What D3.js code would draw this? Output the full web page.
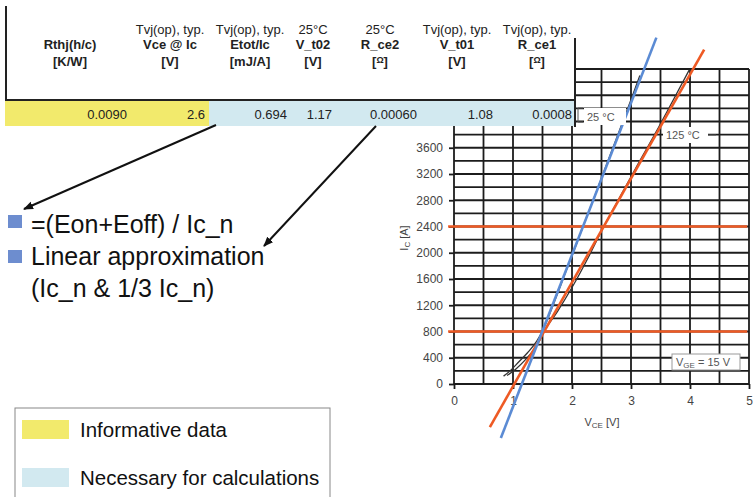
<!DOCTYPE html>
<html>
<head>
<meta charset="utf-8">
<script src="https://cdn.jsdelivr.net/npm/d3@7"></script>
<style>
  body { margin: 0; background: #fff; }
  text { font-family: "Liberation Sans", Arial, sans-serif; }
</style>
</head>
<body>
<script>
// table content
var headTop = ["", "Tvj(op), typ.", "Tvj(op), typ.", "25°C", "25°C", "Tvj(op), typ.", "Tvj(op), typ."];
var headName = ["Rthj(h/c)", "Vce @ Ic", "Etot/Ic", "V_t02", "R_ce2", "V_t01", "R_ce1"];
var headUnit = ["[K/W]", "[V]", "[mJ/A]", "[V]", "[Ω]", "[V]", "[Ω]"];
var rowValues = ["0.0090", "2.6", "0.694", "1.17", "0.00060", "1.08", "0.0008"];

var bulletLines = ["=(Eon+Eoff) / Ic_n", "Linear approximation", "(Ic_n & 1/3 Ic_n)"];
var legendItems = ["Informative data", "Necessary for calculations"];

// chart data  [V_CE, I_C]
var xTicks = [0, 1, 2, 3, 4, 5];
var yTicks = [0, 400, 800, 1200, 1600, 2000, 2400, 2800, 3200, 3600];
var curve25 = [[0.84,120],[0.95,200],[1.1,340],[1.25,480],[1.4,650],[1.495,800],[1.7,1250],[1.9,1720],[2.05,2070],[2.187,2400],[2.4,2900],[2.6,3380],[2.8,3850],[3.0,4330],[3.15,4700]];
var curve125 = [[0.9,130],[1.05,230],[1.2,360],[1.35,520],[1.45,660],[1.528,800],[1.75,1100],[2.0,1470],[2.3,1970],[2.539,2400],[2.8,2830],[3.1,3320],[3.4,3800],[3.7,4300],[3.99,4790]];
var approx25 = [[0.794,-824],[3.43,5278]];
var approx125 = [[0.608,-656],[4.24,5095]];
var refCurrents = [800, 2400];

var svg = d3.select("body").append("svg").attr("width", 753).attr("height", 497);

var x = d3.scaleLinear().domain([0, 5]).range([454, 749]);
var y = d3.scaleLinear().domain([0, 4800]).range([384, 69]);

// grid
var g = svg.append("g");
g.selectAll("line.v")
  .data(d3.range(0, 5.01, 0.5))
  .enter().append("line")
          .attr("class","v")
          .attr("x1", function(d){ return x(d); })
          .attr("x2", function(d){ return x(d); })
          .attr("y1", y(0))
          .attr("y2", y(4800))
          .attr("stroke","#1c1c1c")
          .attr("stroke-width",1.8);
g.selectAll("line.h")
  .data(d3.range(0, 4801, 200))
  .enter().append("line")
          .attr("class","h")
          .attr("x1", x(0))
          .attr("x2", x(5))
          .attr("y1", function(d){ return y(d); })
          .attr("y2", function(d){ return y(d); })
          .attr("stroke","#1c1c1c")
          .attr("stroke-width",1.8);

// axes
var xAxis = svg.append("g").attr("transform","translate(0," + y(0) + ")")
  .call(d3.axisBottom(x).tickValues(xTicks).tickSize(5).tickPadding(7).tickFormat(d3.format("d")));
var yAxis = svg.append("g").attr("transform","translate(" + x(0) + ",0)")
  .call(d3.axisLeft(y).tickValues(yTicks).tickSize(5).tickPadding(6).tickFormat(d3.format("d")));
[xAxis, yAxis].forEach(function(a){
  a.select(".domain").remove();
  a.selectAll("line").attr("stroke","#1c1c1c").attr("stroke-width",1.8);
  a.selectAll("text").attr("fill","#444").attr("font-size",12).attr("font-family","Liberation Sans, Arial, sans-serif");
});

var xl = svg.append("text").attr("x", 602).attr("y", 426).attr("text-anchor","middle")
  .attr("font-size",11).attr("fill","#444");
xl.append("tspan").text("V");
xl.append("tspan").text("CE").attr("font-size",8).attr("dy",2);
xl.append("tspan").text(" [V]").attr("dy",-2);

var yl = svg.append("text").attr("transform","translate(408,238) rotate(-90)").attr("text-anchor","middle")
  .attr("font-size",11).attr("fill","#444");
yl.append("tspan").text("I");
yl.append("tspan").text("C").attr("font-size",8).attr("dy",2);
yl.append("tspan").text(" [A]").attr("dy",-2);

// reference currents
svg.selectAll("line.ref")
  .data(refCurrents)
  .enter().append("line")
          .attr("class","ref")
          .attr("x1", x(-0.1))
          .attr("x2", x(4.97))
          .attr("y1", function(d){ return y(d); })
          .attr("y2", function(d){ return y(d); })
          .attr("stroke","#ee5a24")
          .attr("stroke-width",2.6);

var line = d3.line().x(function(d){ return x(d[0]); }).y(function(d){ return y(d[1]); });
var smooth = d3.line().curve(d3.curveMonotoneX).x(function(d){ return x(d[0]); }).y(function(d){ return y(d[1]); });

svg.selectAll("path.curve")
  .data([curve25, curve125])
  .enter().append("path")
          .attr("class","curve")
          .attr("d", smooth)
          .attr("fill","none")
          .attr("stroke","#333")
          .attr("stroke-width",1.3);

svg.selectAll("path.approx")
  .data([approx125, approx25])
  .enter().append("path")
          .attr("class","approx")
          .attr("d", line)
          .attr("fill","none")
          .attr("stroke", function(d,i){ return i ? "#5b8bd4" : "#ee5a24"; })
          .attr("stroke-width",2.6);

// labels in chart
function boxLabel(bx, by, bw, bh, tx, ty){
  svg.append("rect").attr("x",bx).attr("y",by).attr("width",bw).attr("height",bh).attr("fill","#fff");
  return svg.append("text").attr("x",tx).attr("y",ty).attr("font-size",11).attr("fill","#555");
}
boxLabel(584, 108, 42, 17, 587, 121).text("25 °C");
svg.append("path").attr("d","M583,108 L578,108 L578,122 L583,122").attr("fill","none").attr("stroke","#555").attr("stroke-width",1);
boxLabel(663, 127, 45, 16, 666, 139).text("125 °C");
svg.append("line").attr("x1",708).attr("x2",716).attr("y1",135).attr("y2",135).attr("stroke","#555").attr("stroke-width",1);

svg.append("rect").attr("x",672).attr("y",354).attr("width",68).attr("height",16)
  .attr("fill","#fff").attr("stroke","#999").attr("stroke-width",1);
var vge = svg.append("text").attr("x",676).attr("y",366).attr("font-size",11).attr("fill","#555");
vge.append("tspan").text("V");
vge.append("tspan").text("GE").attr("font-size",8).attr("dy",2);
vge.append("tspan").text(" = 15 V").attr("dy",-2);

// table on top
var colCenter = [70, 170, 250, 313, 380, 457, 537];
var colRight = [127, 205, 287, 332, 417, 493, 572];

svg.append("rect").attr("x",0).attr("y",0).attr("width",576).attr("height",100).attr("fill","#fff");
svg.append("rect").attr("x",5).attr("y",100).attr("width",204).attr("height",26).attr("fill","#f2ea6c");
svg.append("rect").attr("x",209).attr("y",100).attr("width",366).attr("height",26).attr("fill","#d2e9f0");

svg.append("line").attr("x1",6).attr("x2",6).attr("y1",6).attr("y2",100).attr("stroke","#222").attr("stroke-width",2);
svg.append("line").attr("x1",5).attr("x2",576).attr("y1",100).attr("y2",100).attr("stroke","#222").attr("stroke-width",2);
svg.append("line").attr("x1",575).attr("x2",575).attr("y1",38).attr("y2",127).attr("stroke","#222").attr("stroke-width",2);

svg.selectAll("text.htop")
  .data(headTop)
  .enter().append("text")
          .attr("class","htop")
          .attr("x", function(d,i){ return colCenter[i]; })
          .attr("y", 34)
          .attr("text-anchor","middle")
          .attr("font-size",13)
          .attr("fill","#222")
          .text(function(d){ return d; });
svg.selectAll("text.hname")
  .data(headName)
  .enter().append("text")
          .attr("class","hname")
          .attr("x", function(d,i){ return colCenter[i]; })
          .attr("y", 49)
          .attr("text-anchor","middle")
          .attr("font-size",13)
          .attr("font-weight","bold")
          .attr("fill","#222")
          .text(function(d){ return d; });
svg.selectAll("text.hunit")
  .data(headUnit)
  .enter().append("text")
          .attr("class","hunit")
          .attr("x", function(d,i){ return colCenter[i]; })
          .attr("y", 66)
          .attr("text-anchor","middle")
          .attr("font-size",13)
          .attr("font-weight","bold")
          .attr("fill","#222")
          .each(function(d){
            var t = d3.select(this);
            if (d === "[Ω]") {
              t.append("tspan").text("[");
              t.append("tspan").text("Ω").attr("font-size",9).attr("dy",-3);
              t.append("tspan").text("]").attr("dy",3);
            } else {
              t.text(d);
            }
          });
svg.selectAll("text.val")
  .data(rowValues)
  .enter().append("text")
          .attr("class","val")
          .attr("x", function(d,i){ return colRight[i]; })
          .attr("y", 119)
          .attr("text-anchor","end")
          .attr("font-size",13)
          .attr("fill","#222")
          .text(function(d){ return d; });

// arrows
svg.append("defs").append("marker")
  .attr("id","head").attr("viewBox","0 0 10 10").attr("refX",9).attr("refY",5)
  .attr("markerWidth",5).attr("markerHeight",5).attr("orient","auto")
  .append("path").attr("d","M0,1 L10,5 L0,9 Z").attr("fill","#111");
svg.append("line").attr("x1",216).attr("y1",125).attr("x2",24).attr("y2",209)
  .attr("stroke","#111").attr("stroke-width",2).attr("marker-end","url(#head)");
svg.append("line").attr("x1",376).attr("y1",126).attr("x2",264).attr("y2",246)
  .attr("stroke","#111").attr("stroke-width",2).attr("marker-end","url(#head)");

// bullet text
svg.selectAll("text.bullet")
  .data(bulletLines)
  .enter().append("text")
          .attr("class","bullet")
          .attr("x", 31)
          .attr("y", function(d,i){ return 233 + i*32; })
          .attr("font-size",25)
          .attr("fill","#111")
          .text(function(d){ return d; });
svg.selectAll("rect.bullet")
  .data(bulletLines.slice(0,2))
  .enter().append("rect")
          .attr("class","bullet")
          .attr("x", 8)
          .attr("y", function(d,i){ return 215 + i*35; })
          .attr("width",14)
          .attr("height",13)
          .attr("fill","#6d8dcf");

// legend
svg.append("rect").attr("x",15).attr("y",408).attr("width",315).attr("height",100)
  .attr("fill","none").attr("stroke","#888").attr("stroke-width",1);
svg.selectAll("rect.leg")
  .data(legendItems)
  .enter().append("rect")
          .attr("class","leg")
          .attr("x",22)
          .attr("y", function(d,i){ return 420 + i*48; })
          .attr("width",47)
          .attr("height",19)
          .attr("fill", function(d,i){ return i ? "#d2e9f0" : "#f2ea6c"; });
svg.selectAll("text.leg")
  .data(legendItems)
  .enter().append("text")
          .attr("class","leg")
          .attr("x",80)
          .attr("y", function(d,i){ return 437 + i*48; })
          .attr("font-size",20.5)
          .attr("fill","#111")
          .text(function(d){ return d; });
</script>
</body>
</html>
